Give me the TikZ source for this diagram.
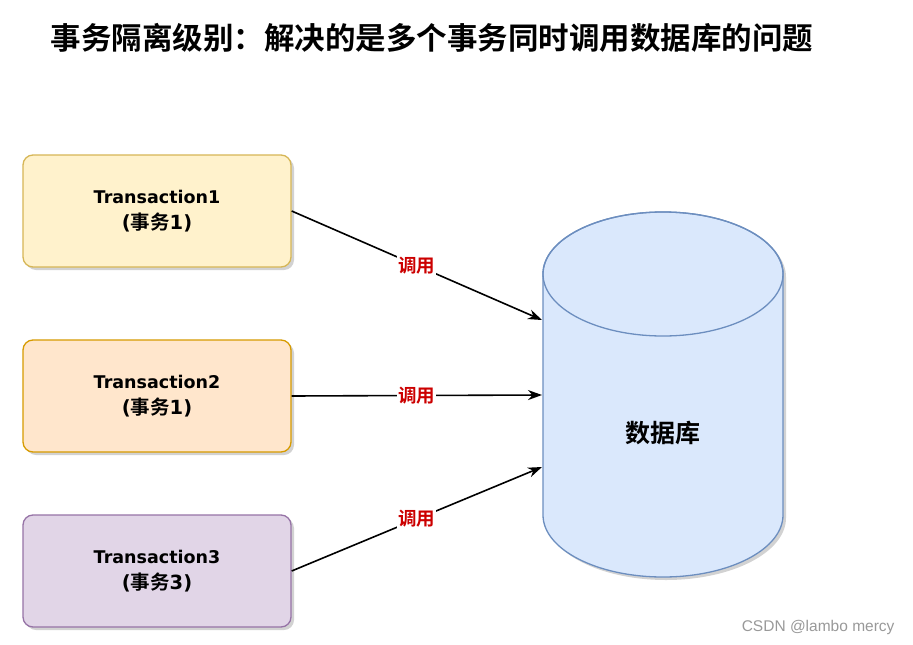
\documentclass[tikz,border=0pt]{standalone}
\usepackage{fontspec}
\setmainfont{DejaVu Sans}
\newfontfamily\cjk{Noto Sans CJK SC}[BoldFont={* Bold}]
\newfontfamily\wm{Liberation Sans}
\usetikzlibrary{shadows,arrows.meta}
\definecolor{y1}{HTML}{FFF2CC}\definecolor{y2}{HTML}{D6B656}
\definecolor{o1}{HTML}{FFE6CC}\definecolor{o2}{HTML}{D79B00}
\definecolor{p1}{HTML}{E1D5E7}\definecolor{p2}{HTML}{9673A6}
\definecolor{b1}{HTML}{DAE8FC}\definecolor{b2}{HTML}{6C8EBF}
\definecolor{lbl}{HTML}{CC0000}
\newcommand\secline[1]{{\fontsize{19.5}{26}\selectfont #1}}
\tikzset{
  tbox/.style={draw, line width=1.3pt, rounded corners=10pt, minimum width=268pt, minimum height=112pt,
    align=center, font=\bfseries\fontsize{17.5}{26}\selectfont,
    drop shadow={opacity=0.35, shadow xshift=3pt, shadow yshift=-3pt, fill=gray}},
  conn/.style={line width=1.6pt, -{Stealth[length=14pt,width=10pt]}},
  lab/.style={midway, fill=white, inner sep=1pt, text=lbl, font=\cjk\bfseries\fontsize{18.5}{20}\selectfont}
}
\begin{document}
\begin{tikzpicture}[x=1pt,y=-1pt]
\useasboundingbox[fill=white] (0,0) rectangle (913,645);
\node[font=\cjk\bfseries\fontsize{30.5}{34}\selectfont, anchor=west] (title) at (47,38) {事务隔离级别：解决的是多个事务同时调用数据库的问题};
\node[tbox, fill=y1, draw=y2] (t1) at (157,211) {Transaction1\\\secline{({\cjk\bfseries 事务}1)}};
\node[tbox, fill=o1, draw=o2] (t2) at (157,396) {Transaction2\\\secline{({\cjk\bfseries 事务}1)}};
\node[tbox, fill=p1, draw=p2] (t3) at (157,571) {Transaction3\\\secline{({\cjk\bfseries 事务}3)}};
% database cylinder
\fill[gray, opacity=0.35] (546,277) -- (546,518) arc[start angle=180, end angle=0, x radius=120, y radius=62] -- (786,277) arc[start angle=0, end angle=-180, x radius=120, y radius=62] -- cycle;
\filldraw[fill=b1, draw=b2, line width=1.3pt] (543,274) -- (543,515) arc[start angle=180, end angle=0, x radius=120, y radius=62] -- (783,274) arc[start angle=0, end angle=-180, x radius=120, y radius=62] -- cycle;
\draw[b2, line width=1.3pt] (663,274) ellipse[x radius=120, y radius=62];
\node[font=\cjk\bfseries\fontsize{25}{28}\selectfont] (db) at (663,433) {数据库};
\coordinate (d1) at (542,320);
\coordinate (d2) at (542,395);
\coordinate (d3) at (542,467);
\draw[conn] (t1.east) -- node[lab] (l1) {调用} (d1);
\draw[conn] (t2.east) -- node[lab] (l2) {调用} (d2);
\draw[conn] (t3.east) -- node[lab] (l3) {调用} (d3);
\node[font=\wm\fontsize{15.5}{17}\selectfont, text=gray!80, anchor=east] (wm) at (898,627) {CSDN @lambo mercy};
\end{tikzpicture}
\end{document}
